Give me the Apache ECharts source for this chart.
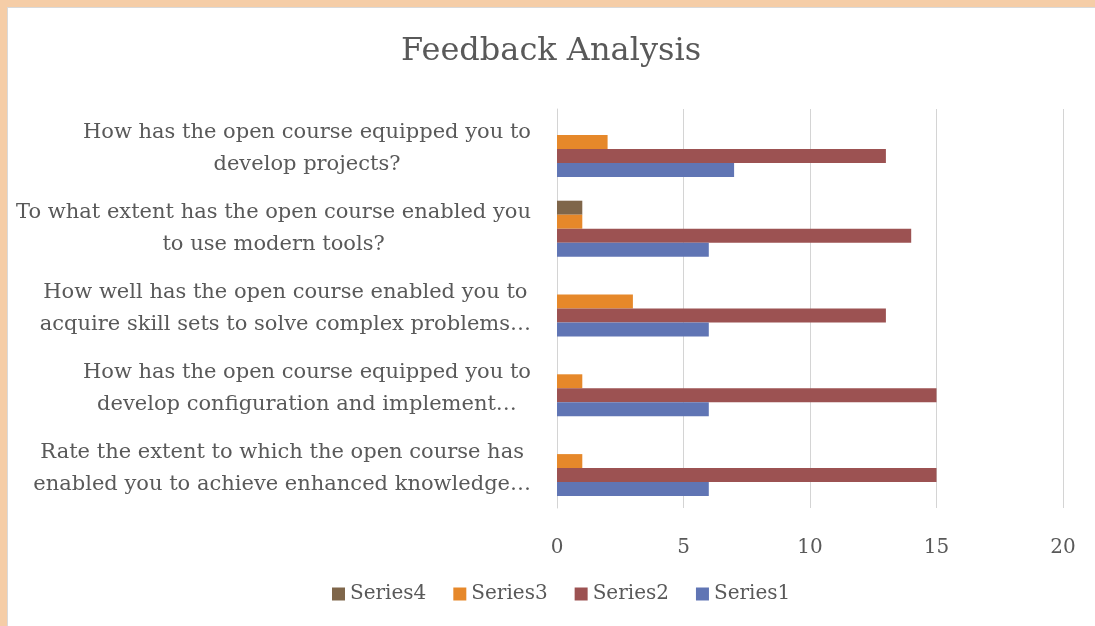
<!DOCTYPE html>
<html>
<head>
<meta charset="utf-8">
<script src="https://cdn.jsdelivr.net/npm/echarts@6/dist/echarts.min.js"></script>
<style>
  html, body { margin: 0; padding: 0; width: 1095px; height: 626px; overflow: hidden; background: #f5cda7; }
  .sheet { position: absolute; left: 7px; top: 7px; right: 0; bottom: 0; background: #fff; border-left: 1px solid #d9d9d9; border-top: 1px solid #d9d9d9; }
  #chart { position: absolute; left: 0; top: 0; width: 1095px; height: 626px; }
</style>
</head>
<body>
<div class="sheet"></div>
<div id="chart"></div>
<script>
  // categories listed bottom -> top (category axis starts at the bottom)
  const categories = [
    'Rate the extent to which the open course has\nenabled you to achieve enhanced knowledge…',
    'How has the open course equipped you to\ndevelop configuration and implement…',
    'How well has the open course enabled you to\nacquire skill sets to solve complex problems…',
    'To what extent has the open course enabled you\nto use modern tools?',
    'How has the open course equipped you to\ndevelop projects?'
  ];
  const series1 = [6, 6, 6, 6, 7];
  const series2 = [15, 15, 13, 14, 13];
  const series3 = [1, 1, 3, 1, 2];
  const series4 = [0, 0, 0, 1, 0];
  const xTicks = [0, 5, 10, 15, 20];

  const textColor = '#595959';
  const gridColor = '#d4d4d4';
  const font = '"DejaVu Serif", "Liberation Serif", serif';

  const seriesDefs = [
    { name: 'Series4', data: series4, color: '#7f664a' },
    { name: 'Series3', data: series3, color: '#e6882a' },
    { name: 'Series2', data: series2, color: '#9c5252' },
    { name: 'Series1', data: series1, color: '#6075b4' }
  ];

  const chart = echarts.init(document.getElementById('chart'), null, { renderer: 'canvas' });
  chart.setOption({
    animation: false,
    title: {
      text: 'Feedback Analysis',
      left: 396,
      top: 31,
      textStyle: { fontFamily: font, fontWeight: 'normal', fontSize: 32, color: textColor }
    },
    legend: {
      data: seriesDefs.map(s => s.name),
      left: 327,
      top: 579,
      icon: 'rect',
      itemWidth: 13,
      itemHeight: 13,
      itemGap: 27,
      textStyle: { fontFamily: font, fontSize: 20, color: textColor }
    },
    grid: { left: 557, right: 32, top: 109, bottom: 118 },
    xAxis: {
      type: 'value',
      min: xTicks[0],
      max: xTicks[xTicks.length - 1],
      interval: 5,
      axisLine: { show: false },
      axisTick: { show: false },
      splitLine: { lineStyle: { color: gridColor, width: 1 } },
      axisLabel: { margin: 30, fontFamily: font, fontSize: 20, color: textColor }
    },
    yAxis: {
      type: 'category',
      data: categories,
      axisLine: { show: true, lineStyle: { color: gridColor, width: 1 } },
      axisTick: { show: false },
      axisLabel: {
        interval: 0,
        margin: 26,
        align: 'right',
        formatter: (val) => val.split('\n').map(line => '{c|' + line + '}').join('\n'),
        rich: {
          c: { align: 'center', fontFamily: font, fontSize: 21, color: textColor, lineHeight: 32 }
        }
      }
    },
    series: seriesDefs.map(s => ({
      name: s.name,
      type: 'bar',
      data: s.data,
      barWidth: 14,
      barGap: '0%',
      itemStyle: { color: s.color }
    }))
  });
</script>
</body>
</html>
